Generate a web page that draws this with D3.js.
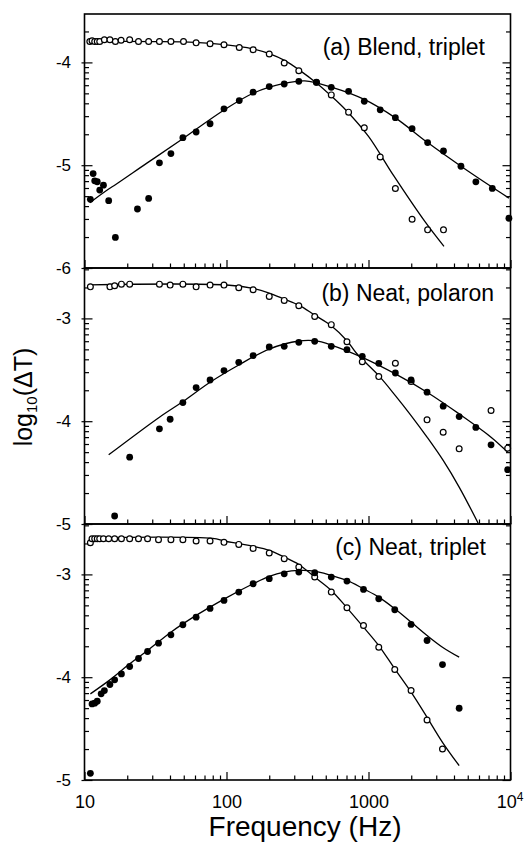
<!DOCTYPE html>
<html>
<head>
<meta charset="utf-8">
<script src="https://cdn.jsdelivr.net/npm/d3@7"></script>
<style>
  body { margin: 0; background: #fff; }
  svg { font-family: "Liberation Sans", Arial, Helvetica, sans-serif; }
  .domain { display: none; }
</style>
</head>
<body>
<script>
// values: [frequency (Hz), log10(dT)]
var blendOpen = [[10.9,-3.797],[11.3,-3.79],[11.8,-3.797],[12.3,-3.797],[12.8,-3.797],[13.8,-3.78],[15.1,-3.78],[16.5,-3.797],[18.1,-3.784],[20.8,-3.78],[24.0,-3.797],[28.3,-3.797],[33.7,-3.797],[40.6,-3.797],[49.8,-3.797],[61.1,-3.81],[76.6,-3.819],[96,-3.829],[123,-3.855],[154,-3.877],[200,-3.919],[255,-4.006],[323,-4.081],[430,-4.194],[547,-4.316],[724,-4.484],[934,-4.635],[1209,-4.92],[1546,-5.226],[2028,-5.526],[2608,-5.629],[3373,-5.629]];
var blendFilled = [[11.0,-5.332],[11.5,-5.081],[11.8,-5.152],[12.3,-5.161],[12.8,-5.242],[13.6,-5.194],[14.8,-5.345],[16.5,-5.703],[23.6,-5.426],[28.3,-5.323],[33.7,-4.977],[40.6,-4.887],[49.3,-4.732],[61.1,-4.677],[76.6,-4.597],[96,-4.452],[123,-4.371],[154,-4.29],[200,-4.235],[255,-4.21],[323,-4.184],[430,-4.194],[547,-4.242],[724,-4.281],[934,-4.378],[1209,-4.461],[1546,-4.538],[2028,-4.645],[2608,-4.78],[3373,-4.862],[4478,-5.01],[5703,-5.162],[7447,-5.226],[9747,-5.516]];
var blendOpenFit = [[10.9,-3.795],[30,-3.797],[60,-3.805],[100,-3.83],[150,-3.865],[200,-3.915],[260,-3.985],[330,-4.08],[430,-4.2],[550,-4.33],[700,-4.47],[1000,-4.72],[1500,-5.1],[2500,-5.55],[3400,-5.79]];
var blendFilledFit = [[10.9,-5.365],[14.8,-5.232],[16.5,-5.19],[27.5,-4.98],[47.2,-4.76],[95,-4.468],[154,-4.30],[254,-4.205],[356,-4.18],[547,-4.24],[934,-4.36],[1546,-4.54],[2608,-4.78],[4478,-5.01],[7447,-5.215],[9747,-5.32]];

var polaronOpen = [[11.0,-2.693],[15.1,-2.693],[16.3,-2.683],[18.2,-2.667],[20.8,-2.667],[33.7,-2.667],[40.1,-2.676],[49.3,-2.667],[61.1,-2.693],[76.6,-2.676],[96,-2.676],[122,-2.702],[154,-2.722],[200,-2.786],[255,-2.825],[323,-2.877],[418,-2.981],[547,-3.061],[705,-3.227],[904,-3.421],[1181,-3.566],[1546,-3.437],[1995,-3.615],[2584,-3.987],[3357,-4.107],[4350,-4.269],[7295,-3.896],[9550,-4.262]];
var polaronFilled = [[16.3,-4.922],[20.8,-4.35],[33.7,-4.074],[40.1,-3.981],[49.3,-3.819],[61.1,-3.673],[76.6,-3.599],[96,-3.508],[122,-3.427],[154,-3.362],[200,-3.278],[255,-3.272],[323,-3.233],[418,-3.223],[547,-3.272],[705,-3.304],[904,-3.369],[1181,-3.437],[1546,-3.531],[1995,-3.599],[2584,-3.718],[3357,-3.854],[4350,-3.955],[5700,-4.061],[7295,-4.23],[9550,-4.472]];
var polaronOpenFit = [[10.7,-2.673],[100,-2.675],[154,-2.709],[200,-2.754],[255,-2.812],[323,-2.871],[418,-2.968],[547,-3.071],[705,-3.217],[820,-3.337],[1181,-3.557],[1546,-3.751],[1995,-3.945],[2584,-4.155],[3357,-4.382],[4350,-4.641],[5943,-4.997]];
var polaronFilledFit = [[14.8,-4.327],[33.7,-3.961],[49.3,-3.809],[76.6,-3.621],[122,-3.453],[200,-3.298],[323,-3.22],[418,-3.217],[547,-3.259],[904,-3.379],[1546,-3.54],[2584,-3.718],[4350,-3.929],[7295,-4.155],[9550,-4.301]];

var tripletOpen = [[11.0,-2.692],[11.3,-2.653],[11.8,-2.653],[12.3,-2.653],[12.8,-2.653],[13.6,-2.653],[14.8,-2.653],[16.3,-2.653],[18.2,-2.653],[20.8,-2.653],[24.0,-2.653],[27.8,-2.653],[33.2,-2.662],[40.6,-2.662],[49.3,-2.662],[61.1,-2.675],[76.6,-2.675],[96,-2.688],[122,-2.708],[154,-2.747],[200,-2.792],[255,-2.847],[323,-2.929],[418,-3.026],[547,-3.172],[705,-3.325],[922,-3.497],[1181,-3.708],[1531,-3.925],[1995,-4.13],[2584,-4.416],[3319,-4.698]];
var tripletFilled = [[11.0,-4.935],[11.3,-4.26],[11.8,-4.253],[12.3,-4.234],[13.1,-4.162],[13.8,-4.13],[15.1,-4.071],[16.3,-4.026],[18.2,-3.968],[20.8,-3.896],[24.0,-3.818],[27.8,-3.75],[33.2,-3.669],[40.6,-3.588],[49.3,-3.49],[61.1,-3.416],[76.6,-3.331],[96,-3.253],[122,-3.172],[154,-3.091],[200,-3.042],[255,-2.994],[323,-2.977],[418,-2.984],[547,-3.026],[705,-3.065],[922,-3.146],[1181,-3.237],[1531,-3.344],[1995,-3.487],[2584,-3.643],[3319,-3.877],[4350,-4.302]];
var tripletOpenFit = [[11,-2.643],[80,-2.65],[96,-2.675],[122,-2.701],[154,-2.727],[200,-2.766],[255,-2.831],[323,-2.903],[418,-3.026],[547,-3.156],[705,-3.325],[922,-3.513],[1181,-3.692],[1531,-3.919],[1995,-4.146],[2584,-4.39],[3319,-4.633],[4350,-4.86]];
var tripletFilledFit = [[11.0,-4.162],[15.1,-4.026],[20.8,-3.87],[27.8,-3.74],[40.6,-3.562],[61.1,-3.399],[96,-3.24],[154,-3.091],[200,-3.019],[255,-2.977],[323,-2.961],[418,-2.968],[547,-3.01],[705,-3.058],[922,-3.14],[1181,-3.221],[1531,-3.334],[1995,-3.464],[2584,-3.594],[3319,-3.708],[4350,-3.805]];

var panelLabels = ["(a) Blend, triplet", "(b) Neat, polaron", "(c) Neat, triplet"];
var panelYTicks = [[-4, -5, -6], [-3, -4, -5], [-3, -4, -5]];
var xTickValues = [10, 100, 1000, 10000];
var xTickLabels = ["10", "100", "1000", "10"];

var svgWidth = 527;
var svgHeight = 844;
var decadePx = 102.8;

var svg = d3.select("body")
  .append("svg")
  .attr("width", svgWidth)
  .attr("height", svgHeight);

var xScale = d3.scaleLog().domain([10, 10000]).range([84.5, 510.5]);

// minor x ticks 20..90, 200..900, 2000..9000
var xMinor = [];
[10, 100, 1000].forEach(function(d) {
  for (var k = 2; k <= 9; k++) xMinor.push(d * k);
});

var panels = [
  {top: 14, bottom: 268, low: -6, open: blendOpen, filled: blendFilled, openFit: blendOpenFit, filledFit: blendFilledFit, labelX: 485, labelY: 55},
  {top: 268, bottom: 524, low: -5, open: polaronOpen, filled: polaronFilled, openFit: polaronOpenFit, filledFit: polaronFilledFit, labelX: 494, labelY: 301},
  {top: 524, bottom: 780, low: -5, open: tripletOpen, filled: tripletFilled, openFit: tripletOpenFit, filledFit: tripletFilledFit, labelX: 486, labelY: 555}
];

panels.forEach(function(p, i) {
  var high = p.low + (p.bottom - p.top) / decadePx;
  var yScale = d3.scaleLinear().domain([p.low, high]).range([p.bottom, p.top]);

  var g = svg.append("g");

  // clip so curves stay inside the frame
  var clipId = "clip" + i;
  svg.append("clipPath").attr("id", clipId)
    .append("rect")
    .attr("x", xScale(10)).attr("y", p.top)
    .attr("width", xScale(10000) - xScale(10))
    .attr("height", p.bottom - p.top);

  // minor y ticks at log10(k * 10^n)
  var yMinor = [];
  for (var n = Math.floor(p.low); n < Math.ceil(high); n++) {
    for (var k = 2; k <= 9; k++) {
      var v = n + Math.log10(k);
      if (v > p.low && v < high) yMinor.push(v);
    }
  }

  g.append("g")
    .attr("transform", `translate(${xScale(10)},0)`)
    .call(d3.axisLeft(yScale).tickValues(yMinor).tickSize(-4.5).tickFormat(""));
  g.append("g")
    .attr("transform", `translate(${xScale(10000)},0)`)
    .call(d3.axisRight(yScale).tickValues(yMinor).tickSize(-4.5).tickFormat(""));

  g.append("g")
    .attr("transform", `translate(${xScale(10)},0)`)
    .call(d3.axisLeft(yScale).tickValues(panelYTicks[i]).tickSize(-8).tickPadding(13.5)
      .tickFormat(function(d) { return String(d); }))
    .call(function(a) {
      a.selectAll("text").attr("font-size", 17).attr("fill", "#000").style("font-family", "inherit");
    });
  g.append("g")
    .attr("transform", `translate(${xScale(10)},0)`)
    .call(d3.axisLeft(yScale).tickValues(panelYTicks[i]).tickSize(3).tickFormat(""));
  g.append("g")
    .attr("transform", `translate(${xScale(10000)},0)`)
    .call(d3.axisRight(yScale).tickValues(panelYTicks[i]).tickSize(-8).tickFormat(""));

  // x ticks on the bottom edge, pointing in
  g.append("g")
    .attr("transform", `translate(0,${p.bottom})`)
    .call(d3.axisBottom(xScale).tickValues(xMinor).tickSize(-4.5).tickFormat(""));
  var xAxis = g.append("g")
    .attr("transform", `translate(0,${p.bottom})`)
    .call(d3.axisBottom(xScale).tickValues(xTickValues).tickSize(-8).tickPadding(15)
      .tickFormat(function(d, j) { return i === 2 ? xTickLabels[j] : ""; }));
  xAxis.selectAll("text").attr("font-size", 18).attr("fill", "#000").style("font-family", "inherit");
  if (i === 2) {
    var last = xAxis.selectAll("text").filter(function(d) { return d === 10000; });
    last.attr("text-anchor", "middle").attr("dx", "-0.05em");
    last.append("tspan").attr("font-size", 12).attr("dy", "-0.55em").text("4");
  }

  g.selectAll(".tick line").attr("stroke", "#000").attr("stroke-width", 1.2);

  var line = d3.line()
    .x(function(d) { return xScale(d[0]); })
    .y(function(d) { return yScale(d[1]); })
    .curve(d3.curveCatmullRom.alpha(0.5));

  var curves = g.append("g").attr("clip-path", `url(#${clipId})`);
  [p.openFit, p.filledFit].forEach(function(fit) {
    curves.append("path")
      .datum(fit)
      .attr("d", line)
      .attr("fill", "none")
      .attr("stroke", "#000")
      .attr("stroke-width", 1.3);
  });

  g.selectAll(".open")
    .data(p.open)
    .enter()
    .append("circle")
    .attr("cx", function(d) { return xScale(d[0]); })
    .attr("cy", function(d) { return yScale(d[1]); })
    .attr("r", 2.9)
    .attr("fill", "#fff")
    .attr("stroke", "#000")
    .attr("stroke-width", 1.2);

  g.selectAll(".filled")
    .data(p.filled)
    .enter()
    .append("circle")
    .attr("cx", function(d) { return xScale(d[0]); })
    .attr("cy", function(d) { return yScale(d[1]); })
    .attr("r", 3.4)
    .attr("fill", "#000");

  // frame
  g.append("rect")
    .attr("x", xScale(10))
    .attr("y", p.top)
    .attr("width", xScale(10000) - xScale(10))
    .attr("height", p.bottom - p.top)
    .attr("fill", "none")
    .attr("stroke", "#000")
    .attr("stroke-width", 1.6);

  g.append("text")
    .attr("x", p.labelX)
    .attr("y", p.labelY)
    .attr("text-anchor", "end")
    .attr("font-size", 23)
    .text(panelLabels[i]);
});

// axis titles
svg.append("text")
  .attr("x", 305)
  .attr("y", 836)
  .attr("text-anchor", "middle")
  .attr("font-size", 28)
  .text("Frequency (Hz)");

var yTitle = svg.append("text")
  .attr("transform", "translate(31.5,397) rotate(-90)")
  .attr("text-anchor", "middle")
  .attr("font-size", 25);
yTitle.append("tspan").text("log");
yTitle.append("tspan").attr("font-size", 15).attr("dy", 5).text("10");
yTitle.append("tspan").attr("dy", -5).text("(ΔT)");
</script>
</body>
</html>
